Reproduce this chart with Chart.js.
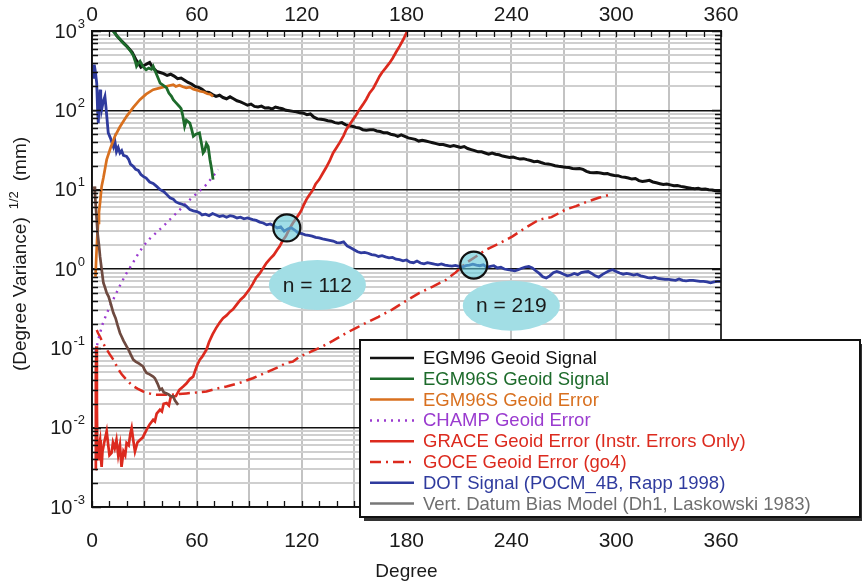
<!DOCTYPE html>
<html><head><meta charset="utf-8">
<script src="https://cdn.jsdelivr.net/npm/chart.js@4.4.1/dist/chart.umd.min.js"></script>
<style>html,body{margin:0;padding:0;background:#fff}canvas{display:block}</style>
</head><body>
<canvas id="c" width="862" height="583"></canvas>
<script>
const FONT = '"Liberation Sans", Arial, Helvetica, sans-serif';

// ---------- tick labels ----------
const xTickLabels = [0, 60, 120, 180, 240, 300, 360];
const xGridStep = 30;
const yExponents = [-3, -2, -1, 0, 1, 2, 3];

// ---------- series (degree, sqrt degree variance in mm) ----------
const egm96Deg = [10,14,17,20,23,25,26.5,28,30,32,33,35,37,39,41,43,45,47,49,51,53,55,57,59,61,63,65,67,69,71,73,75,77,79,81,83,85,87,89,91,93,95,97,99,101,103,105,107,109,111,113,115,117,119,121,123,125,127,129,131,133,135,137,139,141,143,145,147,149,151,153,155,157,159,161,163,165,167,169,171,173,175,177,179,181,183,185,187,189,191,193,195,197,199,201,203,205,207,209,211,213,215,217,219,221,223,225,227,229,231,233,235,237,239,241,243,245,247,249,251,253,255,257,259,261,263,265,267,269,271,273,275,277,279,281,283,285,287,289,291,293,295,297,299,301,303,305,307,309,311,313,315,317,319,321,323,325,327,329,331,333,335,337,339,341,343,345,347,349,351,353,355,357,359,360];
const egm96Val = [1300,880,745,640,540,440,395,350,370,390,400,340,310,300,290,275,285,270,250,255,240,225,215,200,195,185,170,168,158,150,155,145,140,148,140,132,128,122,116,120,112,110,113,107,108,104,110,107,105,100,99,97,96,93,92,88,90,82,78,77,76,74,73,70,69,70,66,64,63,61,60,57,56,57,57,55,54,52,52,50,49,47,49,47,45,44,43,41,42,41,40,39,38,37,37,36,35,36,35,34,35,33,32,31,30,30,29,28,29,28,27.5,26.5,26,25.5,25.8,25,24.3,24.6,23.9,23.3,22.5,22.8,22,21.3,21,20.7,20,19.7,19.5,19.2,19,18.5,18.3,18.5,18,17,16.5,16.3,16.4,16.2,15.9,16,15.4,15.1,15,14.5,14.3,14,13.6,13.8,13,12.7,12.9,13.1,12.5,12.2,11.9,11.6,11.8,11.5,11.2,11.3,11,10.8,10.6,10.4,10.3,10.4,10.1,10.2,10,9.9,9.7,9.6,9.8];

const egm96sSigDeg = [10,12,14,16,18,20,22,23.5,25,25.5,26.5,27.5,29,31,32.5,34,35,36.5,38,39,41,42.7,44,45.5,46.5,48,50,51,52,53,54,56,57,58,59.5,61.5,62.5,63.6,64.5,65.5,66.5,67.5,68.5,69.3];
const egm96sSigVal = [1300,1000,880,790,700,640,560,500,400,360,390,415,360,325,340,330,360,300,250,220,205,192,165,150,136,125,112,105,85,63,75,69,58,47,50,52,40,29,31,38,35,24,18,13.4];

const egm96sErrDeg = [2,2.5,3,3.5,4,4.6,5.5,6.5,8.4,10.5,13.1,16,19.8,23.5,27.4,31,35,39,42.7,46.5,48,50,52,54,56,58,60,61.7,64,66,67.5,69.3];
const egm96sErrVal = [0.8,1.5,2.5,3.8,5.2,6.8,11,14,23.9,33,47,62,84,108,136,160,182,192,201,211,200,207,198,192,196,185,180,174,170,162,160,150];

const champDeg = [2,4,6,8,10.3,13,16,19.8,23,26,29.3,33,37,40.7,45,50,54,58,62,65.5,69,72.2];
const champVal = [0.09,0.14,0.2,0.26,0.34,0.45,0.62,0.89,1.15,1.5,1.93,2.4,2.9,3.44,4.3,5.5,6.8,8.2,9.8,11.6,14.5,17.9];

const graceDeg = [2,2.2,2.5,2.8,3,3.5,4,4.6,5,5.5,6,7,8.4,9.3,10,11.2,12,13,14,15,16,16.9,18,19,19.8,21,22,22.7,23.6,24.6,26,27.4,29,31.2,33,35,36,37,38.9,40,41,42.7,44,45,46.5,48,50,52.2,54,56,57.9,59,60,61.7,63,65.5,67,69,71,73,75,77,79,80.7,83,85,87,90,92,94,96,98,99.8,102,104,106,107.4,109,111,113,115,117,119,120,121,122.7,124,126.5,128,130,132,134,136,138,140,142,144,145.5,147,149.3,151,153,155,157,158.9,161,163,164.6,166,168,170.3,172,174,176,178,180,181];
const graceVal = [0.003,0.05,0.106,0.02,0.006,0.004,0.006,0.007,0.0045,0.0032,0.005,0.0065,0.009,0.006,0.0045,0.0048,0.0065,0.0055,0.007,0.0045,0.006,0.0032,0.005,0.0045,0.0064,0.006,0.0085,0.0099,0.007,0.005,0.0065,0.007,0.0075,0.0094,0.011,0.0126,0.012,0.015,0.0168,0.016,0.02,0.0204,0.019,0.024,0.0247,0.025,0.03,0.033,0.036,0.041,0.044,0.052,0.06,0.072,0.078,0.096,0.12,0.15,0.18,0.21,0.24,0.26,0.29,0.31,0.36,0.41,0.45,0.55,0.65,0.78,0.88,1.03,1.19,1.35,1.5,1.75,1.93,2.25,2.6,3.2,3.8,4.4,5.1,5.6,6.3,7.5,8.3,10,11.8,13.4,16,19,23,29,34,40,48,57,64,76,86,102,118,138,166,190,230,269,300,340,396,450,540,641,770,950,1050];

const goceDeg = [2.7,3.5,4.6,6,8,10,12.2,15,17,19.8,23,26,29.3,33,36,39,45,50,54,60,65.5,71,77,85,92,100,106,111,115,119,125,132,138,145.5,151,157,164,172,180,187.4,195,202.6,208,214,220,225.5,233,240.7,248,256,263,271,277,283,290,296,298];
const goceVal = [0.17,0.155,0.14,0.12,0.1,0.085,0.072,0.055,0.047,0.04,0.034,0.031,0.0286,0.027,0.026,0.026,0.026,0.0265,0.027,0.0278,0.0286,0.031,0.033,0.037,0.042,0.05,0.057,0.065,0.068,0.079,0.09,0.106,0.125,0.156,0.18,0.21,0.25,0.31,0.4,0.5,0.6,0.73,0.9,1.19,1.45,1.75,2.1,2.58,3.3,4.2,4.5,5.6,6.2,7,7.9,8.6,9];

const dotDeg = [1,1.3,2,2.7,3.2,3.6,4.1,4.6,5,5.5,6.5,7.4,8,9.3,10.5,12.2,13,14,15,16,17,18,19.8,21,22,23.6,25,26.5,28,29.3,31,33,35,37,39,41,43,44.6,46.5,48,50,52,54,56,58,60,61.7,63,65,67,69,71,73,75,77,79,81,83,85,87,89,92,94,96,98,100,102,104,106,108,110,112,114,116,118,120,122,124,126,128,130,132,134,136,138,140,142,144,146,148,150,152,154,156,158,160,162,164,166,168,170,172,174,176,178,180,182,184,186,188,190,192,194,196,198,200,202,204,206,208,210,212,214,216,218,220,222,224,226,228,230,232,234,236,238,240,242,244,246,248,250,252,254,256,258,260,262,264,266,268,270,272,274,276,278,280,282,284,286,288,290,292,294,296,298,300,302,304,306,308,310,312,314,316,318,320,322,324,326,328,330,332,334,336,338,340,342,344,346,348,350,352,354,356,358,360];
const dotVal = [250,377,300,221,100,69,120,182,150,102,130,150,110,52,45,35,42,30,34,29,31,27,26.3,24,21,19.7,18,17.5,15.5,14.7,14,12.5,12,11,10,9.5,8.6,7.9,7.6,7.0,6.7,6.5,6.2,5.6,5.4,5.3,5.1,4.8,4.9,4.7,5.0,4.8,4.6,4.7,4.5,4.7,4.6,4.4,4.5,4.3,4.4,4.2,4.1,3.9,3.8,3.6,3.7,3.5,3.3,3.4,3.0,3.2,3.3,3.1,2.85,2.8,2.7,2.65,2.6,2.5,2.46,2.4,2.35,2.3,2.25,2.15,2.13,2.2,1.95,1.85,1.75,1.65,1.6,1.62,1.58,1.52,1.5,1.44,1.47,1.42,1.38,1.4,1.33,1.31,1.27,1.3,1.22,1.2,1.26,1.19,1.16,1.2,1.18,1.15,1.13,1.16,1.12,1.1,1.09,1.11,1.08,1.06,1.1,1.12,1.15,1.12,1.1,1.13,1.05,1.08,1.1,1.03,1.05,1.0,0.98,0.97,0.95,0.98,1.02,1.06,1.08,1.03,0.95,0.88,0.8,0.77,0.82,0.9,0.93,0.9,0.86,0.82,0.84,0.88,0.85,0.9,0.92,0.93,0.88,0.82,0.79,0.85,0.9,0.95,0.98,0.93,0.89,0.86,0.88,0.86,0.84,0.86,0.82,0.8,0.78,0.77,0.79,0.76,0.75,0.74,0.74,0.73,0.72,0.75,0.72,0.71,0.72,0.72,0.71,0.7,0.7,0.69,0.67,0.69,0.7,0.7];

const vdbDeg = [1.3,1.7,2.2,2.7,3.2,4,4.6,5.5,6.5,7.5,8.4,9.5,10.5,12.2,13.5,14.5,16,17,18,19.8,21,22,23.6,25,27,29.3,30,31.2,33,35,36,37.5,38.9,40,41,42.7,44,45,46.5,47.5,49.3];
const vdbVal = [11,9,6,4.2,2.8,2,1.44,1,0.67,0.58,0.5,0.45,0.38,0.28,0.24,0.2,0.156,0.14,0.125,0.106,0.095,0.085,0.072,0.068,0.064,0.059,0.054,0.049,0.047,0.044,0.042,0.036,0.03,0.031,0.028,0.027,0.026,0.025,0.0247,0.022,0.0194];

const seriesNames = ['EGM96 Geoid Signal','EGM96S Geoid Signal','EGM96S Geoid Error','CHAMP Geoid Error','GRACE Geoid Error (Instr. Errors Only)','GOCE Geoid Error (go4)','DOT Signal (POCM_4B, Rapp 1998)','Vert. Datum Bias Model (Dh1, Laskowski 1983)'];

// annotation markers (degree, value) and labels
const markDeg = [111.5, 218.5];
const markVal = [3.3, 1.12];
const markLabels = ['n = 112', 'n = 219'];
const labelDeg = [129, 240];
const labelVal = [0.63, 0.345];

// ---------- build ----------
const pts = (d, v) => d.map((x, i) => ({x, y: v[i]}));
const lineColors = ['#111111','#1d6b2b','#d8701f','#9a3bcf','#dc2a1e','#dc2a1e','#2f3b9e','#6e4a40'];
const legendLineColors = ['#111111','#1d6b2b','#d8701f','#9a3bcf','#dc2a1e','#dc2a1e','#2f3b9e','#777777'];
const legendTextColors = ['#111111','#1d6b2b','#d8701f','#9a3bcf','#dc2a1e','#dc2a1e','#2f3b9e','#6f6f6f'];
const dashes = [[],[],[],[2,5],[],[11,5,2,5],[],[]];
const widths = [3,2.8,2.7,2.4,2.7,2.5,2.8,2.7];
const allData = [pts(egm96Deg,egm96Val),pts(egm96sSigDeg,egm96sSigVal),pts(egm96sErrDeg,egm96sErrVal),pts(champDeg,champVal),pts(graceDeg,graceVal),pts(goceDeg,goceVal),pts(dotDeg,dotVal),pts(vdbDeg,vdbVal)];
// lower order = drawn on top
const drawOrder = [7,1,2,5,4,6,3,0];

const datasets = allData.map((d, i) => ({
  label: seriesNames[i], data: d, borderColor: lineColors[i], backgroundColor: lineColors[i],
  borderWidth: widths[i], borderDash: dashes[i], pointRadius: 0, tension: 0, fill: false,
  order: drawOrder[i], xAxisID: 'x', yAxisID: 'y'
}));

const yGridValues = [];
for (let e = -3; e < 3; e++) for (let m = 1; m < 10; m++) yGridValues.push(+(m * Math.pow(10, e)).toPrecision(3));
yGridValues.push(1000);
const isDecade = v => Math.abs(Math.log10(v) - Math.round(Math.log10(v))) < 1e-6;

const xTickCfg = {
  stepSize: 10, autoSkip: false, maxRotation: 0, minRotation: 0,
  color: '#1a1a1a', font: {family: FONT, size: 21},
  callback: v => xTickLabels.includes(v) ? String(v) : ''
};

const framePlugin = {
  id: 'frame',
  afterDatasetsDraw(chart) {
    const {ctx, chartArea: a, scales} = chart;
    const xs = scales.x, ys = scales.y;
    ctx.save();
    // annotation ellipses + circles
    for (let i = 0; i < markDeg.length; i++) {
      const ex = xs.getPixelForValue(labelDeg[i]), ey = ys.getPixelForValue(labelVal[i]);
      ctx.beginPath(); ctx.ellipse(ex, ey, 48.5, 25, 0, 0, Math.PI * 2);
      ctx.fillStyle = '#a2dee5'; ctx.fill();
      ctx.fillStyle = '#1a1a1a'; ctx.font = '21px ' + FONT; ctx.textAlign = 'center'; ctx.textBaseline = 'middle';
      ctx.fillText(markLabels[i], ex, ey + 1);
      const cx = xs.getPixelForValue(markDeg[i]), cy = ys.getPixelForValue(markVal[i]);
      ctx.beginPath(); ctx.arc(cx, cy, 13.5, 0, Math.PI * 2);
      ctx.fillStyle = 'rgba(95,200,215,0.6)'; ctx.fill();
      ctx.lineWidth = 2.2; ctx.strokeStyle = '#111'; ctx.stroke();
    }
    // inward ticks
    ctx.strokeStyle = '#111'; ctx.lineWidth = 1.3;
    ctx.beginPath();
    for (let v = 0; v <= 360; v += 10) {
      const px = Math.round(xs.getPixelForValue(v)) + 0.5;
      ctx.moveTo(px, a.bottom); ctx.lineTo(px, a.bottom - 6);
      ctx.moveTo(px, a.top); ctx.lineTo(px, a.top + 6);
    }
    yGridValues.forEach(v => {
      const py = Math.round(ys.getPixelForValue(v)) + 0.5;
      const L = isDecade(v) ? 9 : 6;
      ctx.moveTo(a.left, py); ctx.lineTo(a.left + L, py);
      ctx.moveTo(a.right, py); ctx.lineTo(a.right - L, py);
    });
    ctx.stroke();
    ctx.lineWidth = 1.6;
    ctx.strokeRect(a.left, a.top, a.right - a.left, a.bottom - a.top);
    ctx.restore();
  },
  afterDraw(chart) {
    const {ctx, chartArea: a, scales} = chart;
    const ys = scales.y;
    ctx.save();
    // y tick labels with superscripts
    ctx.fillStyle = '#1a1a1a'; ctx.textBaseline = 'middle'; ctx.textAlign = 'right';
    yExponents.forEach(e => {
      const py = ys.getPixelForValue(Math.pow(10, e));
      const ex = String(e);
      ctx.font = '13px ' + FONT;
      const w = ctx.measureText(ex).width;
      ctx.fillText(ex, 85, py - 7);
      ctx.font = '20px ' + FONT;
      ctx.fillText('10', 85 - w - 1, py + 1);
    });
    // y title
    ctx.translate(21, 254); ctx.rotate(-Math.PI / 2);
    ctx.textAlign = 'left'; ctx.textBaseline = 'middle';
    const t1 = '(Degree Variance)', t2 = '1/2', t3 = '(mm)';
    ctx.font = '19px ' + FONT; const w1 = ctx.measureText(t1).width, w3 = ctx.measureText(t3).width;
    ctx.font = '13px ' + FONT; const w2 = ctx.measureText(t2).width;
    const g1 = 8, g2 = 10, tot = w1 + g1 + w2 + g2 + w3;
    let x0 = -tot / 2;
    ctx.font = '19px ' + FONT; ctx.fillText(t1, x0, 0);
    ctx.font = '13px ' + FONT; ctx.fillText(t2, x0 + w1 + g1, -7);
    ctx.font = '19px ' + FONT; ctx.fillText(t3, x0 + w1 + g1 + w2 + g2, 0);
    ctx.setTransform(1, 0, 0, 1, 0, 0);
    // legend
    const bx = 360, by = 340, bw = 500, bh = 177;
    ctx.fillStyle = '#333'; ctx.fillRect(bx + 4, by + 4, bw, bh);
    ctx.fillStyle = '#fff'; ctx.fillRect(bx, by, bw, bh);
    ctx.strokeStyle = '#111'; ctx.lineWidth = 2; ctx.strokeRect(bx, by, bw, bh);
    ctx.font = '18.5px ' + FONT; ctx.textAlign = 'left'; ctx.textBaseline = 'middle';
    seriesNames.forEach((name, i) => {
      const y = 358 + i * 20.8;
      ctx.beginPath(); ctx.setLineDash(dashes[i]); ctx.lineWidth = 2.5; ctx.strokeStyle = legendLineColors[i];
      ctx.moveTo(370, y); ctx.lineTo(414, y); ctx.stroke();
      ctx.setLineDash([]);
      ctx.fillStyle = legendTextColors[i]; ctx.fillText(name, 423, y + 1);
    });
    ctx.restore();
  }
};

new Chart(document.getElementById('c'), {
  type: 'line',
  data: {datasets},
  plugins: [framePlugin],
  options: {
    responsive: false, animation: false, maintainAspectRatio: false,
    layout: {padding: {left: 0, right: 141, top: 0, bottom: 0}},
    plugins: {legend: {display: false}, tooltip: {enabled: false}},
    scales: {
      x: {
        type: 'linear', position: 'bottom', min: 0, max: 360,
        ticks: Object.assign({}, xTickCfg, {padding: 22}),
        grid: {
          drawTicks: false, lineWidth: 2,
          color: c => (c.tick && c.tick.value % xGridStep === 0) ? '#c3c3c3' : 'rgba(0,0,0,0)'
        },
        border: {display: true, color: '#111', width: 1.6},
        title: {display: true, text: 'Degree', color: '#1a1a1a', font: {family: FONT, size: 19}, padding: {top: 0, bottom: 0}},
        afterFit: s => { s.height = 76; }
      },
      x2: {
        type: 'linear', position: 'top', min: 0, max: 360,
        ticks: Object.assign({}, xTickCfg, {padding: 3}),
        grid: {display: false, drawTicks: false},
        border: {display: true, color: '#111', width: 1.6},
        afterFit: s => { s.height = 31; }
      },
      y: {
        type: 'logarithmic', position: 'left', min: 0.001, max: 1000,
        afterBuildTicks: s => { s.ticks = yGridValues.map(v => ({value: v})); },
        ticks: {display: false},
        grid: {
          drawTicks: false,
          color: c => (c.tick && isDecade(c.tick.value)) ? '#111' : '#cfcfcf',
          lineWidth: c => (c.tick && isDecade(c.tick.value)) ? 1.5 : 2
        },
        border: {display: true, color: '#111', width: 1.6},
        afterFit: s => { s.width = 92; }
      }
    }
  }
});
</script>
</body></html>
